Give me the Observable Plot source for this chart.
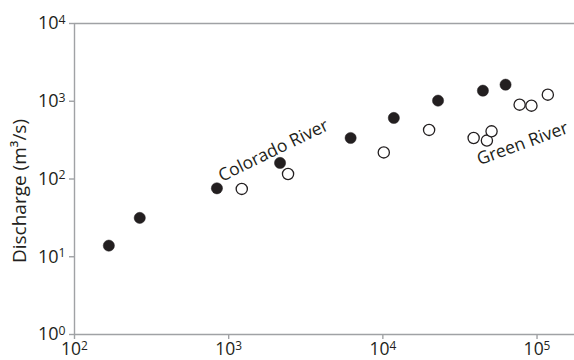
<!DOCTYPE html>
<html>
<head>
<meta charset="utf-8">
<script src="https://cdn.jsdelivr.net/npm/d3@7"></script>
<script src="https://cdn.jsdelivr.net/npm/@observablehq/plot@0.6"></script>
<style>
  html, body { margin: 0; padding: 0; background: #fff; }
  #chart { width: 574px; height: 360px; overflow: hidden; }
</style>
</head>
<body>
<div id="chart"></div>
<script>
// Drainage area (x) vs discharge (y)
const coloradoX = [167, 265, 839, 2154, 6180, 11780, 22800, 44560, 62500];
const coloradoY = [13.9, 31.6, 75.9, 161, 337, 610, 1018, 1368, 1634];
const greenX = [1216, 2427, 10140, 19950, 38800, 47300, 50700, 77100, 92000, 117500];
const greenY = [74.6, 116, 220, 428, 337, 312, 410, 904, 878, 1216];

const xTicks = [1e2, 1e3, 1e4, 1e5];
const yTicks = [1e0, 1e1, 1e2, 1e3, 1e4];
const xDomain = [1e2, 1.75e5];
const yDomain = [1e0, 1e4];

const riverLabels = ["Colorado River", "Green River"];
const labelX = [1950, 80500];
const labelY = [232, 285];
const labelAngle = [-26, -20];

const yLabel = "Discharge (m³/s)";

const colorado = coloradoX.map((x, i) => ({x, y: coloradoY[i]}));
const green = greenX.map((x, i) => ({x, y: greenY[i]}));

const gray = "#a0a2a5";
const ink = "#231f20";
const font = "'Open Sans', sans-serif";

const chart = Plot.plot({
  width: 574,
  height: 360,
  marginLeft: 74,
  marginRight: 0,
  marginTop: 23,
  marginBottom: 26,
  style: {fontFamily: font, fontSize: "17px", background: "#fff", overflow: "visible"},
  x: {type: "log", domain: xDomain},
  y: {type: "log", domain: yDomain},
  marks: [
    Plot.ruleY([yDomain[1]], {stroke: gray, strokeWidth: 1.4}),
    Plot.ruleY([yDomain[0]], {stroke: gray, strokeWidth: 1.4}),
    Plot.ruleX([xDomain[0]], {stroke: gray, strokeWidth: 1.4}),
    Plot.axisX({ticks: xTicks, tickSize: 5, tickPadding: 3, stroke: gray, strokeWidth: 1.4, fill: ink,
      tickFormat: d => "10^" + Math.round(Math.log10(d)), label: null, fontSize: 17.5}),
    Plot.axisY({ticks: yTicks, tickSize: 5, tickPadding: 4, stroke: gray, strokeWidth: 1.4, fill: ink,
      tickFormat: d => "10^" + Math.round(Math.log10(d)), label: null, fontSize: 18}),
    Plot.text([yLabel], {frameAnchor: "left", text: d => d, rotate: -90, dx: -55, dy: 12,
      fontSize: 19, fill: ink, textAnchor: "middle"}),
    Plot.dot(green, {x: "x", y: "y", r: 5.6, fill: "#fff", stroke: ink, strokeWidth: 1.3}),
    Plot.dot(colorado, {x: "x", y: "y", r: 5.6, fill: ink, stroke: ink, strokeWidth: 0.5}),
    Plot.text([0], {x: () => labelX[0], y: () => labelY[0], text: () => riverLabels[0],
      rotate: labelAngle[0], fontSize: 17.5, fill: ink, textAnchor: "middle"}),
    Plot.text([1], {x: () => labelX[1], y: () => labelY[1], text: () => riverLabels[1],
      rotate: labelAngle[1], fontSize: 17.5, fill: ink, textAnchor: "middle"})
  ]
});

// Turn "10^n" tick labels into 10 with a superscript exponent
chart.querySelectorAll("text").forEach(t => {
  const m = /^10\^(\d+)$/.exec(t.textContent);
  if (!m) return;
  t.textContent = "10";
  const sup = document.createElementNS("http://www.w3.org/2000/svg", "tspan");
  sup.setAttribute("dy", "-0.45em");
  sup.setAttribute("font-size", "0.68em");
  sup.textContent = m[1];
  t.appendChild(sup);
});

document.getElementById("chart").appendChild(chart);
</script>
</body>
</html>
